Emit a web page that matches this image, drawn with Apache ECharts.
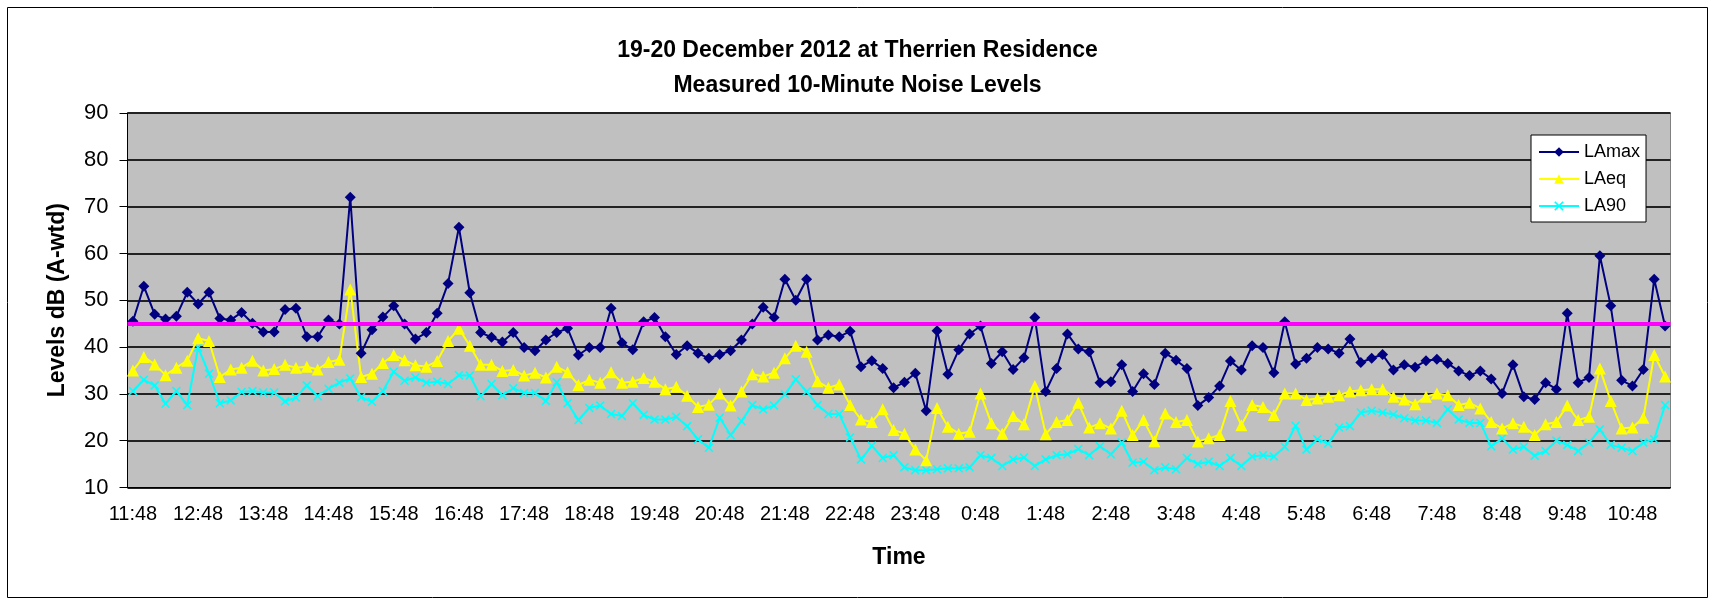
<!DOCTYPE html>
<html>
<head>
<meta charset="utf-8">
<script src="https://cdn.jsdelivr.net/npm/echarts@6/dist/echarts.min.js"></script>
<style>
  html, body { margin: 0; padding: 0; background: #fff; }
  #chart { width: 1715px; height: 602px; }
</style>
</head>
<body>
<div id="chart"></div>
<script>
// 10-minute intervals, 19-20 Dec 2012
var times = [
  "11:48","11:58","12:08","12:18","12:28","12:38",
  "12:48","12:58","13:08","13:18","13:28","13:38",
  "13:48","13:58","14:08","14:18","14:28","14:38",
  "14:48","14:58","15:08","15:18","15:28","15:38",
  "15:48","15:58","16:08","16:18","16:28","16:38",
  "16:48","16:58","17:08","17:18","17:28","17:38",
  "17:48","17:58","18:08","18:18","18:28","18:38",
  "18:48","18:58","19:08","19:18","19:28","19:38",
  "19:48","19:58","20:08","20:18","20:28","20:38",
  "20:48","20:58","21:08","21:18","21:28","21:38",
  "21:48","21:58","22:08","22:18","22:28","22:38",
  "22:48","22:58","23:08","23:18","23:28","23:38",
  "23:48","23:58","0:08","0:18","0:28","0:38",
  "0:48","0:58","1:08","1:18","1:28","1:38",
  "1:48","1:58","2:08","2:18","2:28","2:38",
  "2:48","2:58","3:08","3:18","3:28","3:38",
  "3:48","3:58","4:08","4:18","4:28","4:38",
  "4:48","4:58","5:08","5:18","5:28","5:38",
  "5:48","5:58","6:08","6:18","6:28","6:38",
  "6:48","6:58","7:08","7:18","7:28","7:38",
  "7:48","7:58","8:08","8:18","8:28","8:38",
  "8:48","8:58","9:08","9:18","9:28","9:38",
  "9:48","9:58","10:08","10:18","10:28","10:38",
  "10:48","10:58","11:08","11:18"
];

var laMax = [
  45.5, 53.0, 47.0, 46.0, 46.6, 51.7, 49.2, 51.7, 46.1, 45.8, 47.4, 45.1, 43.2, 43.2, 48.0, 48.3,
  42.2, 42.2, 45.8, 44.9, 72.0, 38.7, 43.7, 46.4, 48.8, 44.9, 41.7, 43.1, 47.2, 53.6, 65.6, 51.6,
  43.1, 42.1, 41.1, 43.1, 39.9, 39.2, 41.5, 43.1, 44.0, 38.3, 39.9, 39.9, 48.3, 40.9, 39.4,
  45.4, 46.3, 42.2, 38.4, 40.3, 38.7, 37.6, 38.4, 39.2, 41.5, 44.9, 48.5, 46.3, 54.5, 50.0, 54.5,
  41.5, 42.6, 42.2, 43.4, 35.8, 37.1, 35.4, 31.3, 32.5, 34.4, 26.4, 43.5, 34.2, 39.4, 42.8, 44.5,
  36.5, 39.0, 35.2, 37.7, 46.3, 30.5, 35.4, 42.8, 39.6, 39.0, 32.4, 32.6, 36.2, 30.5, 34.3,
  32.0, 38.7, 37.2, 35.4, 27.5, 29.2, 31.7, 37.0, 35.1, 40.3, 39.9, 34.5, 45.4, 36.4, 37.6, 39.9,
  39.6, 38.7, 41.7, 36.7, 37.6, 38.4, 35.1, 36.2, 35.7, 37.1, 37.4, 36.5, 34.9, 33.9, 34.9, 33.2,
  30.1, 36.2, 29.4, 28.8, 32.4, 31.0, 47.2, 32.4, 33.5, 59.5, 48.8, 32.9, 31.7, 35.2, 54.5, 44.5
];

var laEq = [
  35.0, 37.9, 36.3, 34.0, 35.6, 37.1, 41.9, 41.3, 33.6, 35.2, 35.6, 37.1, 35.0, 35.3, 36.2, 35.6,
  35.8, 35.2, 36.8, 37.3, 52.3, 33.6, 34.3, 36.6, 38.3, 37.2, 36.1, 35.8, 37.0, 41.3, 43.9, 40.3,
  36.2, 36.2, 34.9, 35.1, 33.9, 34.5, 33.5, 35.8, 34.6, 31.9, 33.0, 32.4, 34.6, 32.4, 32.6,
  33.4, 32.6, 31.0, 31.5, 29.6, 27.2, 27.7, 30.1, 27.5, 30.5, 34.2, 33.7, 34.5, 37.6, 40.3, 39.0,
  32.7, 31.3, 32.0, 27.6, 24.5, 24.0, 26.7, 22.3, 21.5, 18.1, 15.8, 27.0, 23.0, 21.5, 21.9, 30.1,
  23.7, 21.5, 25.3, 23.5, 31.7, 21.4, 24.0, 24.4, 28.1, 22.8, 23.7, 22.6, 26.4, 21.2, 24.4,
  19.9, 25.8, 24.0, 24.4, 19.8, 20.5, 21.2, 28.5, 23.3, 27.6, 27.2, 25.5, 30.1, 30.1, 28.7, 29.0,
  29.4, 29.7, 30.5, 30.8, 31.0, 31.0, 29.4, 28.8, 27.8, 29.4, 30.1, 29.7, 27.6, 28.1, 26.9, 24.0,
  22.6, 23.7, 23.0, 21.2, 23.5, 24.0, 27.5, 24.4, 25.1, 35.4, 28.5, 22.6, 22.8, 24.9, 38.3, 33.7
];

var la90 = [
  30.6, 33.0, 31.8, 27.9, 30.6, 27.6, 39.9, 34.3, 28.0, 28.6, 30.4, 30.6, 30.3, 30.3, 28.4, 29.2,
  31.8, 29.5, 31.1, 32.4, 33.3, 29.3, 28.3, 30.6, 34.7, 32.8, 33.5, 32.4, 32.6, 32.1, 34.0, 33.9,
  29.5, 32.1, 29.7, 31.2, 30.2, 30.2, 28.5, 32.5, 28.0, 24.4, 27.0, 27.5, 25.7, 25.3, 28.0,
  25.5, 24.5, 24.5, 25.1, 23.1, 20.3, 18.5, 24.9, 21.2, 24.2, 27.6, 26.7, 27.5, 29.9, 33.1, 30.5,
  27.6, 25.7, 25.7, 20.7, 16.0, 18.9, 16.3, 16.9, 14.3, 13.7, 13.7, 13.9, 14.1, 14.1, 14.3, 16.9,
  16.3, 14.6, 16.0, 16.4, 14.6, 16.0, 16.9, 17.1, 18.2, 16.9, 18.8, 17.1, 19.6, 15.3, 15.5,
  13.7, 14.3, 13.9, 16.3, 15.0, 15.5, 14.6, 16.3, 14.6, 16.6, 16.9, 16.6, 18.7, 23.2, 18.1, 20.3,
  19.4, 22.8, 23.1, 26.0, 26.4, 26.0, 25.6, 24.8, 24.3, 24.3, 23.8, 26.7, 24.5, 23.8, 23.8, 18.8,
  20.5, 18.1, 18.7, 16.8, 17.8, 20.0, 19.1, 17.8, 19.6, 22.4, 19.1, 18.5, 17.8, 19.6, 20.3, 27.6
];

var limitLevel = 45;

var font = "Liberation Sans, Arial, sans-serif";
var xMark = "path://M0,1.2L1.2,0L5,3.8L8.8,0L10,1.2L6.2,5L10,8.8L8.8,10L5,6.2L1.2,10L0,8.8L3.8,5Z";

let myChart = echarts.init(document.getElementById("chart"));
let option = {
  backgroundColor: "#fff",
  animation: false,
  title: {
    text: "19-20 December 2012 at Therrien Residence",
    subtext: "Measured 10-Minute Noise Levels",
    left: "center",
    top: 34,
    itemGap: 12,
    textStyle: { fontFamily: font, fontSize: 23, fontWeight: "bold", color: "#000" },
    subtextStyle: { fontFamily: font, fontSize: 23, fontWeight: "bold", color: "#000" },
  },
  graphic: [
    {
      type: "rect",
      shape: { x: 7.5, y: 7.5, width: 1700, height: 590 },
      style: { fill: "none", stroke: "#000", lineWidth: 1 },
      silent: true,
    },
  ],
  legend: {
    orient: "vertical",
    left: 1531,
    top: 135,
    padding: [8, 6, 7, 7],
    itemWidth: 40,
    itemHeight: 12,
    itemGap: 9,
    backgroundColor: "#fff",
    borderColor: "#000",
    borderWidth: 1,
    textStyle: { fontFamily: font, fontSize: 18, color: "#000" },
    data: ["LAmax", "LAeq", "LA90"],
  },
  grid: {
    left: 127.5,
    right: 44.5,
    top: 113,
    bottom: 114.5,
    show: true,
    backgroundColor: "#C0C0C0",
    borderColor: "#808080",
    borderWidth: 1,
  },
  xAxis: {
    type: "category",
    data: times,
    boundaryGap: true,
    name: "Time",
    nameLocation: "middle",
    nameGap: 59,
    nameTextStyle: { fontFamily: font, fontSize: 23, fontWeight: "bold", color: "#000" },
    axisLine: { lineStyle: { color: "#000", width: 1 } },
    axisTick: { interval: 0, length: 6, lineStyle: { color: "#000" } },
    axisLabel: { interval: 5, margin: 17, fontFamily: font, fontSize: 20, color: "#000" },
    splitLine: { show: false },
  },
  yAxis: {
    type: "value",
    min: 10,
    max: 90,
    interval: 10,
    name: "Levels dB (A-wtd)",
    nameLocation: "middle",
    nameGap: 58,
    nameTextStyle: { fontFamily: font, fontSize: 23, fontWeight: "bold", color: "#000" },
    axisLine: { show: true, lineStyle: { color: "#000", width: 1 } },
    axisTick: { show: true, length: 8, lineStyle: { color: "#000" } },
    axisLabel: { margin: 19, fontFamily: font, fontSize: 22, color: "#000" },
    splitLine: { lineStyle: { color: "#222", width: 2 } },
  },
  series: [
    {
      name: "LAmax",
      type: "line",
      data: laMax,
      symbol: "diamond",
      symbolSize: 11,
      showAllSymbol: true,
      lineStyle: { color: "#000080", width: 2 },
      itemStyle: { color: "#000080" },
      z: 4,
      markLine: {
        silent: true,
        symbol: "none",
        label: { show: false },
        lineStyle: { color: "#FF00FF", width: 4, type: "solid" },
        data: [{ yAxis: limitLevel }],
      },
    },
    {
      name: "LAeq",
      type: "line",
      data: laEq,
      symbol: "triangle",
      symbolSize: 12,
      showAllSymbol: true,
      lineStyle: { color: "#FFFF00", width: 2 },
      itemStyle: { color: "#FFFF00" },
      z: 3,
    },
    {
      name: "LA90",
      type: "line",
      data: la90,
      symbol: xMark,
      symbolSize: 9,
      showAllSymbol: true,
      lineStyle: { color: "#00FFFF", width: 2 },
      itemStyle: { color: "#00FFFF" },
      z: 2,
    },
  ],
};
myChart.setOption(option);
</script>
</body>
</html>
